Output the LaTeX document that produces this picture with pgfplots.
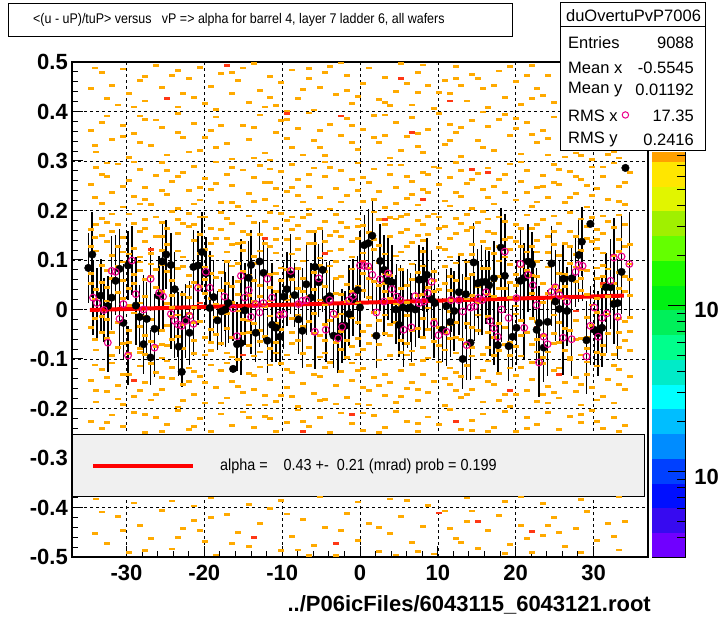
\documentclass[border=0pt]{standalone}
\usepackage{pgfplots}
\pgfplotsset{compat=1.18}
\usepackage{graphicx}
\usepackage{fontspec}
\setmainfont{Liberation Sans}

\definecolor{rootorange}{RGB}{255,170,0}
\definecolor{rootred}{RGB}{255,55,20}
\definecolor{legendgray}{RGB}{240,240,240}
\definecolor{p0}{RGB}{112,0,255}
\definecolor{p1}{RGB}{55,10,240}
\definecolor{p2}{RGB}{0,15,255}
\definecolor{p3}{RGB}{0,64,255}
\definecolor{p4}{RGB}{0,140,255}
\definecolor{p5}{RGB}{0,190,255}
\definecolor{p6}{RGB}{0,255,255}
\definecolor{p7}{RGB}{0,235,200}
\definecolor{p8}{RGB}{0,255,140}
\definecolor{p9}{RGB}{0,240,90}
\definecolor{p10}{RGB}{0,240,20}
\definecolor{p11}{RGB}{30,250,0}
\definecolor{p12}{RGB}{100,255,0}
\definecolor{p13}{RGB}{160,240,0}
\definecolor{p14}{RGB}{225,245,0}
\definecolor{p15}{RGB}{255,230,0}
\definecolor{p16}{RGB}{255,160,0}

% one filled 2D-histogram bin
\pgfdeclareplotmark{cell}{%
  \pgfpathrectangle{\pgfqpoint{-3pt}{-1.4pt}}{\pgfqpoint{6pt}{2.8pt}}%
  \pgfusepathqfill}

\newcommand{\tickfont}{\fontsize{22}{26}\selectfont\bfseries}
\newcommand{\statfont}{\fontsize{16.5}{19}\selectfont}

\begin{document}
\begin{tikzpicture}[x=1pt,y=1pt]
\path[use as bounding box] (0,0) rectangle (720,620);

\begin{axis}[
  at={(72pt,63pt)}, anchor=south west,
  scale only axis, width=576pt, height=495pt,
  xmin=-37, xmax=37, ymin=-0.5, ymax=0.5,
  clip=false,
  axis line style={line width=1.2pt},
  xtick={-30,-20,-10,0,10,20,30},
  xticklabels={-30,-20,-10,0,10,20,30},
  ytick={-0.5,-0.4,-0.3,-0.2,-0.1,0,0.1,0.2,0.3,0.4,0.5},
  yticklabels={-0.5,-0.4,-0.3,-0.2,-0.1,0,0.1,0.2,0.3,0.4,0.5},
  minor x tick num=4, minor y tick num=4,
  xtick pos=left, ytick pos=left,
  tick align=inside,
  major tick length=11pt, minor tick length=5.5pt,
  tick style={black, line width=1pt},
  grid=major,
  major grid style={black, line width=0.6pt, dash pattern=on 3pt off 3pt},
  xticklabel style={font=\tickfont, anchor=north, inner sep=0pt, yshift=-8pt},
  yticklabel style={font=\tickfont, anchor=east, inner sep=0pt, xshift=-4pt},
]

% 2D histogram bins, single entries
\addplot[only marks, mark=cell, color=rootorange] coordinates {
(-34.6,0.447) (-33.2,0.478) (-31.8,0.452) (-31.1,0.413) (-30.4,0.486) (-29.7,0.437) (-28.3,0.462) (-27.6,0.421) (-26.2,0.493) (-25.5,0.448)
(-24.1,0.472) (-23.4,0.409) (-22.0,0.467) (-21.3,0.428) (-20.6,0.489) (-19.2,0.451) (-18.5,0.404) (-17.8,0.476) (-16.4,0.437) (-15.7,0.462)
(-14.3,0.418) (-13.6,0.497) (-12.9,0.443) (-11.5,0.471) (-10.8,0.412) (-10.1,0.458) (-8.7,0.484) (-8.0,0.427) (-6.6,0.466) (-5.9,0.403)
(-5.2,0.449) (-3.8,0.491) (-3.1,0.434) (-1.7,0.473) (-1.0,0.416) (0.4,0.457) (1.1,0.488) (2.5,0.424) (3.2,0.468) (4.6,0.441)
(5.3,0.497) (6.7,0.413) (7.4,0.478) (8.8,0.452) (9.5,0.406) (10.9,0.463) (11.6,0.437) (12.3,0.491) (13.7,0.421) (14.4,0.474)
(15.8,0.446) (16.5,0.408) (17.9,0.482) (18.6,0.429) (20.0,0.461) (20.7,0.414) (22.1,0.493) (22.8,0.447) (24.2,0.472) (24.9,0.418)
(-32.5,0.426) (-27.6,0.471) (-23.4,0.483) (-19.9,0.416) (-15.0,0.488) (-12.2,0.409) (-7.3,0.444) (-4.5,0.479) (-0.3,0.431) (3.9,0.412)
(8.1,0.494) (10.2,0.439) (15.1,0.467) (19.3,0.491) (23.5,0.433) (-9.4,0.401) (6.0,0.456) (-2.4,0.498) (13.0,0.453) (21.4,0.473)
(-34.0,0.488) (-29.0,0.409) (-22.7,0.437) (-16.4,0.479) (-11.5,0.428) (-6.6,0.487) (-1.7,0.442) (3.2,0.418) (7.4,0.438) (12.3,0.466)
(17.2,0.452) (22.1,0.427)
(-34.6,0.362) (-33.9,0.318) (-32.5,0.391) (-31.8,0.344) (-30.4,0.372) (-29.7,0.307) (-29.0,0.356) (-27.6,0.384) (-26.9,0.331) (-25.5,0.367)
(-24.8,0.312) (-23.4,0.396) (-22.7,0.348) (-21.3,0.376) (-20.6,0.322) (-19.2,0.361) (-18.5,0.389) (-17.1,0.336) (-16.4,0.304) (-15.0,0.371)
(-14.3,0.343) (-12.9,0.393) (-12.2,0.316) (-10.8,0.358) (-10.1,0.382) (-8.7,0.327) (-8.0,0.366) (-6.6,0.397) (-5.9,0.341) (-4.5,0.311)
(-3.8,0.374) (-2.4,0.352) (-1.7,0.386) (-0.3,0.323) (0.4,0.363) (1.8,0.392) (2.5,0.338) (3.9,0.306) (4.6,0.377) (6.0,0.349)
(6.7,0.388) (8.1,0.317) (8.8,0.364) (10.2,0.396) (10.9,0.333) (12.3,0.358) (13.0,0.309) (14.4,0.381) (15.1,0.342) (16.5,0.369)
(17.2,0.321) (18.6,0.394) (19.3,0.352) (20.7,0.314) (21.4,0.378) (22.8,0.337) (23.5,0.361) (24.9,0.389) (26.3,0.308) (27.7,0.316)
(29.8,0.303) (31.9,0.313) (33.3,0.306) (-33.2,0.377) (-28.3,0.338) (-23.4,0.357) (-18.5,0.328) (-13.6,0.367) (-9.4,0.346) (-5.2,0.362)
(-1.0,0.337) (3.2,0.352) (7.4,0.329) (11.6,0.373) (15.8,0.399) (20.0,0.366) (24.2,0.346) (-11.5,0.302) (5.3,0.321) (17.9,0.384)
(-34.0,0.331) (-30.4,0.349) (-26.2,0.383) (-22.0,0.318) (-17.8,0.372) (-13.6,0.306) (-9.4,0.384) (-5.2,0.327) (-1.0,0.371) (3.2,0.393)
(7.4,0.356) (11.6,0.341) (15.8,0.327) (20.0,0.386) (24.2,0.312) (-28.3,0.391) (-19.9,0.347) (-7.3,0.312) (1.8,0.347) (13.0,0.368)
(22.1,0.353) (28.4,0.311) (32.6,0.318)
(-34.6,0.253) (-33.9,0.287) (-33.2,0.214) (-32.5,0.268) (-31.8,0.236) (-31.1,0.294) (-30.4,0.207) (-29.7,0.261) (-29.0,0.228) (-28.3,0.283)
(-27.6,0.246) (-26.9,0.212) (-26.2,0.271) (-25.5,0.297) (-24.8,0.233) (-24.1,0.258) (-23.4,0.204) (-22.7,0.276) (-22.0,0.241) (-21.3,0.289)
(-20.6,0.221) (-19.9,0.264) (-19.2,0.243) (-18.5,0.298) (-17.8,0.216) (-17.1,0.273) (-16.4,0.251) (-15.7,0.208) (-15.0,0.282) (-14.3,0.234)
(-13.6,0.266) (-12.9,0.291) (-12.2,0.223) (-11.5,0.256) (-10.8,0.209) (-10.1,0.278) (-9.4,0.238) (-8.7,0.293) (-8.0,0.262) (-7.3,0.217)
(-6.6,0.248) (-5.9,0.286) (-5.2,0.226) (-4.5,0.269) (-3.8,0.203) (-3.1,0.244) (-2.4,0.281) (-1.7,0.231) (-1.0,0.263) (-0.3,0.296)
(0.4,0.218) (1.1,0.257) (1.8,0.284) (2.5,0.239) (3.2,0.206) (3.9,0.272) (4.6,0.247) (5.3,0.292) (6.0,0.224) (6.7,0.259)
(7.4,0.211) (8.1,0.277) (8.8,0.236) (9.5,0.288) (10.2,0.252) (10.9,0.219) (11.6,0.267) (12.3,0.297) (13.0,0.229) (13.7,0.254)
(14.4,0.204) (15.1,0.274) (15.8,0.242) (16.5,0.286) (17.2,0.213) (17.9,0.263) (18.6,0.237) (19.3,0.294) (20.0,0.221) (20.7,0.258)
(21.4,0.281) (22.1,0.208) (22.8,0.246) (23.5,0.271) (24.2,0.227) (24.9,0.293) (25.6,0.252) (26.3,0.216) (27.0,0.279) (27.7,0.234)
(28.4,0.262) (29.1,0.207) (29.8,0.288) (30.5,0.244) (31.2,0.269) (31.9,0.223) (32.6,0.296) (33.3,0.249) (34.0,0.212) (34.7,0.276)
(-34.0,0.226) (-32.5,0.296) (-30.4,0.249) (-28.3,0.213) (-25.5,0.241) (-23.4,0.269) (-21.3,0.213) (-18.5,0.254) (-16.4,0.287) (-13.6,0.218)
(-11.5,0.284) (-8.7,0.247) (-6.6,0.203) (-4.5,0.298) (-2.4,0.217) (-0.3,0.241) (1.8,0.222) (3.9,0.292) (6.0,0.268) (8.1,0.243)
(10.2,0.286) (12.3,0.237) (14.4,0.263) (16.5,0.226) (18.6,0.272) (20.7,0.298) (22.8,0.217) (24.9,0.256) (27.0,0.226) (29.1,0.251)
(31.2,0.288) (33.3,0.218)
(-33.2,0.273) (-29.0,0.298) (-24.8,0.281) (-20.6,0.247) (-16.4,0.216) (-12.2,0.257) (-8.0,0.231) (-3.8,0.287) (0.4,0.267) (4.6,0.214)
(8.8,0.273) (13.0,0.281) (17.2,0.248) (21.4,0.236) (25.6,0.283) (29.8,0.231) (34.0,0.257) (-27.6,0.222) (-10.8,0.244) (6.7,0.232)
(23.5,0.248) (-6.6,0.272) (11.6,0.209) (27.7,0.268)
(-34.6,0.162) (-33.9,0.118) (-33.2,0.184) (-32.5,0.137) (-31.8,0.109) (-31.1,0.171) (-30.4,0.146) (-29.7,0.193) (-29.0,0.124) (-28.3,0.157)
(-27.6,0.182) (-26.9,0.113) (-26.2,0.148) (-25.5,0.176) (-24.8,0.131) (-24.1,0.198) (-23.4,0.153) (-22.7,0.106) (-22.0,0.168) (-21.3,0.139)
(-20.6,0.187) (-19.9,0.121) (-19.2,0.164) (-18.5,0.143) (-17.8,0.196) (-17.1,0.116) (-16.4,0.173) (-15.7,0.134) (-15.0,0.158) (-14.3,0.189)
(-13.6,0.107) (-12.9,0.151) (-12.2,0.178) (-11.5,0.127) (-10.8,0.163) (-10.1,0.194) (-9.4,0.141) (-8.7,0.112) (-8.0,0.169) (-7.3,0.186)
(-6.6,0.133) (-5.9,0.157) (-5.2,0.104) (-4.5,0.177) (-3.8,0.149) (-3.1,0.192) (-2.4,0.122) (-1.7,0.166) (-1.0,0.138) (-0.3,0.183)
(0.4,0.114) (1.1,0.156) (1.8,0.197) (2.5,0.129) (3.2,0.172) (3.9,0.147) (4.6,0.108) (5.3,0.188) (6.0,0.161) (6.7,0.136)
(7.4,0.179) (8.1,0.117) (8.8,0.152) (9.5,0.193) (10.2,0.126) (10.9,0.168) (11.6,0.143) (12.3,0.184) (13.0,0.111) (13.7,0.159)
(14.4,0.132) (15.1,0.176) (15.8,0.198) (16.5,0.123) (17.2,0.154) (17.9,0.187) (18.6,0.106) (19.3,0.145) (20.0,0.171) (20.7,0.128)
(21.4,0.191) (22.1,0.163) (22.8,0.139) (23.5,0.181) (24.2,0.115) (24.9,0.158) (25.6,0.174) (26.3,0.133) (27.0,0.196) (27.7,0.147)
(28.4,0.119) (29.1,0.167) (29.8,0.186) (30.5,0.124) (31.2,0.153) (31.9,0.178) (32.6,0.109) (33.3,0.142) (34.0,0.171) (34.7,0.131)
(-34.6,0.127) (-33.2,0.149) (-31.8,0.193) (-30.4,0.116) (-29.0,0.173) (-27.6,0.137) (-26.2,0.187) (-24.8,0.163) (-23.4,0.118) (-22.0,0.194)
(-20.6,0.152) (-19.2,0.108) (-17.8,0.161) (-16.4,0.132) (-15.0,0.119) (-13.6,0.176) (-12.2,0.134) (-10.8,0.114) (-9.4,0.179) (-8.0,0.143)
(-6.6,0.192) (-5.2,0.163) (-3.8,0.118) (-2.4,0.176) (-1.0,0.106) (0.4,0.169) (1.8,0.141) (3.2,0.112) (4.6,0.183) (6.0,0.127)
(7.4,0.149) (8.8,0.188) (10.2,0.164) (11.6,0.106) (13.0,0.173) (14.4,0.166) (15.8,0.138) (17.2,0.113) (18.6,0.177) (20.0,0.137)
(21.4,0.116) (22.8,0.172) (24.2,0.148) (25.6,0.109) (27.0,0.158) (28.4,0.183) (29.8,0.137) (31.2,0.114) (32.6,0.166) (34.0,0.128)
(-33.9,0.172) (-31.1,0.128) (-28.3,0.106) (-25.5,0.148) (-22.7,0.174) (-19.9,0.187) (-17.1,0.143) (-14.3,0.152) (-11.5,0.196) (-8.7,0.161)
(-5.9,0.134) (-3.1,0.157) (-0.3,0.143) (2.5,0.181) (5.3,0.156) (8.1,0.171) (10.9,0.122) (13.7,0.192) (16.5,0.183) (19.3,0.121)
(22.1,0.127) (24.9,0.189) (27.7,0.111) (30.5,0.162) (33.3,0.191)
(-34.0,0.146) (-31.8,0.158) (-29.7,0.112) (-27.6,0.163) (-25.5,0.119) (-23.4,0.182) (-21.3,0.171) (-19.2,0.133) (-17.1,0.184) (-15.0,0.136)
(-12.9,0.118) (-10.8,0.142) (-8.7,0.187) (-6.6,0.158) (-4.5,0.137) (-2.4,0.148) (-0.3,0.167) (1.8,0.121) (3.9,0.186) (6.0,0.192)
(8.1,0.139) (10.2,0.187) (12.3,0.154) (14.4,0.111) (16.5,0.158) (18.6,0.141) (20.7,0.163) (22.8,0.116) (24.9,0.131) (27.0,0.128)
(29.1,0.143) (31.2,0.189) (33.3,0.117) (-32.5,0.176) (-20.6,0.113) (-8.0,0.122) (5.3,0.116) (17.9,0.127) (30.5,0.141)
(-34.6,0.073) (-33.9,0.041) (-33.2,0.089) (-32.5,0.017) (-31.8,0.062) (-31.1,0.034) (-30.4,0.096) (-29.7,0.008) (-29.0,0.053) (-28.3,0.079)
(-27.6,0.026) (-26.9,0.067) (-26.2,0.044) (-25.5,0.091) (-24.8,0.012) (-24.1,0.058) (-23.4,0.083) (-22.7,0.031) (-22.0,0.069) (-21.3,0.004)
(-20.6,0.047) (-19.9,0.086) (-19.2,0.022) (-18.5,0.064) (-17.8,0.038) (-17.1,0.097) (-16.4,0.014) (-15.7,0.056) (-15.0,0.077) (-14.3,0.029)
(-13.6,0.093) (-12.9,0.049) (-12.2,0.006) (-11.5,0.071) (-10.8,0.036) (-10.1,0.084) (-9.4,0.019) (-8.7,0.061) (-8.0,0.043) (-7.3,0.098)
(-6.6,0.027) (-5.9,0.074) (-5.2,0.052) (-4.5,0.009) (-3.8,0.088) (-3.1,0.033) (-2.4,0.066) (-1.7,0.016) (-1.0,0.082) (-0.3,0.046)
(0.4,0.072) (1.1,0.024) (1.8,0.057) (2.5,0.094) (3.2,0.037) (3.9,0.068) (4.6,0.011) (5.3,0.081) (6.0,0.048) (6.7,0.092)
(7.4,0.028) (8.1,0.063) (8.8,0.003) (9.5,0.076) (10.2,0.041) (10.9,0.087) (11.6,0.018) (12.3,0.059) (13.0,0.034) (13.7,0.096)
(14.4,0.071) (15.1,0.013) (15.8,0.054) (16.5,0.083) (17.2,0.026) (17.9,0.067) (18.6,0.042) (19.3,0.091) (20.0,0.007) (20.7,0.058)
(21.4,0.079) (22.1,0.032) (22.8,0.066) (23.5,0.014) (24.2,0.086) (24.9,0.047) (25.6,0.072) (26.3,0.021) (27.0,0.093) (27.7,0.056)
(28.4,0.038) (29.1,0.078) (29.8,0.009) (30.5,0.063) (31.2,0.089) (31.9,0.027) (32.6,0.052) (33.3,0.074) (34.0,0.036) (34.7,0.061)
(-34.0,0.021) (-32.5,0.078) (-31.1,0.087) (-29.7,0.043) (-28.3,0.013) (-26.9,0.092) (-25.5,0.037) (-24.1,0.028) (-22.7,0.087) (-21.3,0.054)
(-19.9,0.033) (-18.5,0.011) (-17.1,0.052) (-15.7,0.093) (-14.3,0.068) (-12.9,0.027) (-11.5,0.044) (-10.1,0.058) (-8.7,0.026) (-7.3,0.063)
(-5.9,0.041) (-4.5,0.076) (-3.1,0.097) (-1.7,0.051) (-0.3,0.013) (1.1,0.083) (2.5,0.048) (3.9,0.022) (5.3,0.043) (6.7,0.061)
(8.1,0.088) (9.5,0.036) (10.9,0.053) (12.3,0.094) (13.7,0.062) (15.1,0.046) (16.5,0.031) (17.9,0.098) (19.3,0.024) (20.7,0.086)
(22.1,0.069) (23.5,0.053) (24.9,0.018) (26.3,0.071) (27.7,0.086) (29.1,0.031) (30.5,0.022) (31.9,0.082) (33.3,0.043) (34.7,0.092)
(-33.2,0.054) (-30.4,0.058) (-27.6,0.061) (-24.8,0.076) (-22.0,0.024) (-19.2,0.072) (-16.4,0.047) (-13.6,0.016) (-10.8,0.072) (-8.0,0.083)
(-5.2,0.019) (-2.4,0.031) (0.4,0.038) (3.2,0.073) (6.0,0.014) (8.8,0.044) (11.6,0.066) (14.4,0.029) (17.2,0.058) (20.0,0.049)
(22.8,0.097) (25.6,0.039) (28.4,0.081) (31.2,0.047) (34.0,0.067)
(-34.6,0.052) (-32.5,0.044) (-30.4,0.023) (-28.3,0.096) (-26.2,0.081) (-24.1,0.004) (-22.0,0.047) (-19.9,0.061) (-17.8,0.074) (-15.7,0.031)
(-13.6,0.058) (-11.5,0.017) (-9.4,0.081) (-7.3,0.037) (-5.2,0.089) (-3.1,0.062) (-1.0,0.036) (1.1,0.062) (3.2,0.052) (5.3,0.008)
(7.4,0.074) (9.5,0.058) (11.6,0.039) (13.7,0.021) (15.8,0.083) (17.9,0.043) (20.0,0.071) (22.1,0.091) (24.2,0.033) (26.3,0.046)
(28.4,0.062) (30.5,0.084) (32.6,0.016) (34.7,0.029) (-29.0,0.071) (-16.4,0.088) (-4.5,0.046) (8.1,0.031) (19.3,0.054) (31.2,0.067)
(-34.6,-0.037) (-33.9,-0.082) (-33.2,-0.014) (-32.5,-0.059) (-31.8,-0.093) (-31.1,-0.026) (-30.4,-0.068) (-29.7,-0.043) (-29.0,-0.007) (-28.3,-0.087)
(-27.6,-0.052) (-26.9,-0.021) (-26.2,-0.074) (-25.5,-0.098) (-24.8,-0.033) (-24.1,-0.061) (-23.4,-0.011) (-22.7,-0.078) (-22.0,-0.046) (-21.3,-0.089)
(-20.6,-0.024) (-19.9,-0.057) (-19.2,-0.083) (-18.5,-0.016) (-17.8,-0.069) (-17.1,-0.038) (-16.4,-0.096) (-15.7,-0.003) (-15.0,-0.049) (-14.3,-0.072)
(-13.6,-0.028) (-12.9,-0.086) (-12.2,-0.054) (-11.5,-0.013) (-10.8,-0.067) (-10.1,-0.041) (-9.4,-0.092) (-8.7,-0.019) (-8.0,-0.063) (-7.3,-0.034)
(-6.6,-0.077) (-5.9,-0.008) (-5.2,-0.052) (-4.5,-0.088) (-3.8,-0.023) (-3.1,-0.066) (-2.4,-0.044) (-1.7,-0.097) (-1.0,-0.017) (-0.3,-0.058)
(0.4,-0.081) (1.1,-0.032) (1.8,-0.006) (2.5,-0.071) (3.2,-0.048) (3.9,-0.093) (4.6,-0.027) (5.3,-0.062) (6.0,-0.012) (6.7,-0.084)
(7.4,-0.039) (8.1,-0.056) (8.8,-0.098) (9.5,-0.021) (10.2,-0.073) (10.9,-0.047) (11.6,-0.004) (12.3,-0.088) (13.0,-0.061) (13.7,-0.029)
(14.4,-0.076) (15.1,-0.042) (15.8,-0.091) (16.5,-0.014) (17.2,-0.057) (17.9,-0.083) (18.6,-0.036) (19.3,-0.066) (20.0,-0.009) (20.7,-0.094)
(21.4,-0.046) (22.1,-0.071) (22.8,-0.024) (23.5,-0.053) (24.2,-0.086) (24.9,-0.011) (25.6,-0.067) (26.3,-0.038) (27.0,-0.097) (27.7,-0.022)
(28.4,-0.059) (29.1,-0.079) (29.8,-0.033) (30.5,-0.006) (31.2,-0.072) (31.9,-0.049) (32.6,-0.091) (33.3,-0.018) (34.0,-0.063) (34.7,-0.044)
(-34.0,-0.061) (-32.5,-0.021) (-31.1,-0.076) (-29.7,-0.089) (-28.3,-0.034) (-26.9,-0.064) (-25.5,-0.043) (-24.1,-0.014) (-22.7,-0.031) (-21.3,-0.063)
(-19.9,-0.092) (-18.5,-0.051) (-17.1,-0.008) (-15.7,-0.072) (-14.3,-0.023) (-12.9,-0.043) (-11.5,-0.078) (-10.1,-0.009) (-8.7,-0.068) (-7.3,-0.089)
(-5.9,-0.048) (-4.5,-0.031) (-3.1,-0.014) (-1.7,-0.062) (-0.3,-0.026) (1.1,-0.068) (2.5,-0.022) (3.9,-0.052) (5.3,-0.087) (6.7,-0.043)
(8.1,-0.018) (9.5,-0.064) (10.9,-0.082) (12.3,-0.027) (13.7,-0.068) (15.1,-0.011) (16.5,-0.077) (17.9,-0.028) (19.3,-0.093) (20.7,-0.053)
(22.1,-0.018) (23.5,-0.097) (24.9,-0.048) (26.3,-0.083) (27.7,-0.061) (29.1,-0.016) (30.5,-0.087) (31.9,-0.009) (33.3,-0.076) (34.7,-0.083)
(-33.2,-0.047) (-30.4,-0.029) (-27.6,-0.091) (-24.8,-0.073) (-22.0,-0.008) (-19.2,-0.041) (-16.4,-0.056) (-13.6,-0.094) (-10.8,-0.029) (-8.0,-0.011)
(-5.2,-0.096) (-2.4,-0.081) (0.4,-0.044) (3.2,-0.011) (6.0,-0.069) (8.8,-0.041) (11.6,-0.059) (14.4,-0.037) (17.2,-0.093) (20.0,-0.074)
(22.8,-0.061) (25.6,-0.026) (28.4,-0.092) (31.2,-0.036) (34.0,-0.024)
(-34.0,-0.019) (-31.8,-0.047) (-29.7,-0.066) (-27.6,-0.013) (-25.5,-0.071) (-23.4,-0.054) (-21.3,-0.027) (-19.2,-0.067) (-17.1,-0.088) (-15.0,-0.021)
(-12.9,-0.064) (-10.8,-0.088) (-8.7,-0.046) (-6.6,-0.024) (-4.5,-0.063) (-2.4,-0.009) (-0.3,-0.091) (1.8,-0.052) (3.9,-0.031) (6.0,-0.092)
(8.1,-0.077) (10.2,-0.036) (12.3,-0.056) (14.4,-0.094) (16.5,-0.047) (18.6,-0.071) (20.7,-0.022) (22.8,-0.086) (24.9,-0.069) (27.0,-0.043)
(29.1,-0.056) (31.2,-0.091) (33.3,-0.047) (-28.3,-0.079) (-14.3,-0.047) (-1.0,-0.074) (11.6,-0.031) (24.2,-0.029) (34.7,-0.016)
(-34.6,-0.143) (-33.9,-0.187) (-33.2,-0.121) (-32.5,-0.166) (-31.8,-0.108) (-31.1,-0.154) (-30.4,-0.192) (-29.7,-0.131) (-29.0,-0.176) (-28.3,-0.114)
(-27.6,-0.148) (-26.9,-0.183) (-26.2,-0.127) (-25.5,-0.161) (-24.8,-0.104) (-24.1,-0.139) (-23.4,-0.197) (-22.7,-0.152) (-22.0,-0.118) (-21.3,-0.171)
(-20.6,-0.136) (-19.9,-0.189) (-19.2,-0.112) (-18.5,-0.158) (-17.8,-0.124) (-17.1,-0.179) (-16.4,-0.146) (-15.7,-0.101) (-15.0,-0.167) (-14.3,-0.193)
(-13.6,-0.133) (-12.9,-0.116) (-12.2,-0.174) (-11.5,-0.141) (-10.8,-0.186) (-10.1,-0.109) (-9.4,-0.157) (-8.7,-0.128) (-8.0,-0.196) (-7.3,-0.149)
(-6.6,-0.113) (-5.9,-0.169) (-5.2,-0.136) (-4.5,-0.182) (-3.8,-0.107) (-3.1,-0.153) (-2.4,-0.126) (-1.7,-0.178) (-1.0,-0.144) (-0.3,-0.191)
(0.4,-0.119) (1.1,-0.164) (1.8,-0.137) (2.5,-0.102) (3.2,-0.173) (3.9,-0.147) (4.6,-0.188) (5.3,-0.123) (6.0,-0.159) (6.7,-0.111)
(7.4,-0.184) (8.1,-0.132) (8.8,-0.168) (9.5,-0.146) (10.2,-0.106) (10.9,-0.194) (11.6,-0.152) (12.3,-0.127) (13.0,-0.177) (13.7,-0.113)
(14.4,-0.162) (15.1,-0.138) (15.8,-0.187) (16.5,-0.104) (17.2,-0.151) (17.9,-0.129) (18.6,-0.172) (19.3,-0.196) (20.0,-0.134) (20.7,-0.117)
(21.4,-0.163) (22.1,-0.142) (22.8,-0.186) (23.5,-0.109) (24.2,-0.156) (24.9,-0.124) (25.6,-0.179) (26.3,-0.148) (27.0,-0.102) (27.7,-0.166)
(28.4,-0.193) (29.1,-0.131) (29.8,-0.157) (30.5,-0.114) (31.2,-0.176) (31.9,-0.141) (32.6,-0.189) (33.3,-0.122) (34.0,-0.161) (34.7,-0.136)
(-34.0,-0.112) (-31.1,-0.181) (-28.3,-0.163) (-25.5,-0.137) (-22.7,-0.184) (-19.9,-0.147) (-17.1,-0.108) (-14.3,-0.129) (-11.5,-0.112) (-8.7,-0.176)
(-5.9,-0.132) (-3.1,-0.191) (-0.3,-0.124) (2.5,-0.154) (5.3,-0.176) (8.1,-0.103) (10.9,-0.139) (13.7,-0.171) (16.5,-0.146) (19.3,-0.118)
(22.1,-0.107) (24.9,-0.167) (27.7,-0.137) (30.5,-0.183) (33.3,-0.152) (-32.5,-0.138) (-26.9,-0.109) (-21.3,-0.126) (-15.7,-0.156) (-10.1,-0.173)
(-4.5,-0.117) (1.1,-0.193) (6.7,-0.147) (12.3,-0.163) (17.9,-0.184) (23.5,-0.171) (29.1,-0.106)
(-33.9,-0.163) (-30.4,-0.131) (-26.2,-0.172) (-22.0,-0.146) (-17.8,-0.189) (-13.6,-0.161) (-9.4,-0.121) (-5.2,-0.184) (-1.0,-0.108) (3.2,-0.131)
(7.4,-0.162) (11.6,-0.118) (15.8,-0.124) (20.0,-0.172) (24.2,-0.189) (28.4,-0.151) (32.6,-0.113) (-24.1,-0.117) (-12.2,-0.193) (0.4,-0.158)
(13.0,-0.136) (25.6,-0.118)
(-34.6,-0.226) (-33.2,-0.241) (-31.8,-0.213) (-30.4,-0.237) (-29.0,-0.208) (-27.6,-0.248) (-26.2,-0.219) (-24.8,-0.232) (-23.4,-0.204) (-22.0,-0.243)
(-20.6,-0.221) (-19.2,-0.246) (-17.8,-0.211) (-16.4,-0.234) (-15.0,-0.207) (-13.6,-0.239) (-12.2,-0.216) (-10.8,-0.247) (-9.4,-0.228) (-8.0,-0.203)
(-6.6,-0.236) (-5.2,-0.218) (-3.8,-0.249) (-2.4,-0.209) (-1.0,-0.231) (0.4,-0.244) (1.8,-0.214) (3.2,-0.238) (4.6,-0.206) (6.0,-0.227)
(7.4,-0.247) (8.8,-0.217) (10.2,-0.233) (11.6,-0.202) (13.0,-0.242) (14.4,-0.224) (15.8,-0.211) (17.2,-0.238) (18.6,-0.206) (20.0,-0.246)
(21.4,-0.219) (22.8,-0.232) (24.2,-0.208) (25.6,-0.243) (27.0,-0.216) (28.4,-0.229) (29.8,-0.204) (31.2,-0.241) (32.6,-0.218) (34.0,-0.234)
(-25.5,-0.247) (-11.5,-0.221) (2.5,-0.249) (16.5,-0.247) (30.5,-0.226)
(-32.5,-0.228) (-27.6,-0.212) (-21.3,-0.236) (-14.3,-0.219) (-7.3,-0.226) (0.4,-0.209) (7.4,-0.231) (14.4,-0.244) (21.4,-0.241) (28.4,-0.212)
(33.3,-0.246)
(-33.9,-0.383) (-29.0,-0.391) (-24.1,-0.387) (-19.2,-0.381) (-14.3,-0.394) (-10.1,-0.386) (-5.2,-0.379) (-0.3,-0.389) (3.9,-0.383) (8.8,-0.396)
(13.7,-0.381) (18.6,-0.388) (23.5,-0.392) (28.4,-0.384) (33.3,-0.379) (-21.3,-0.397) (6.0,-0.386) (20.7,-0.379)
(-34.0,-0.452) (-32.5,-0.473) (-31.1,-0.418) (-29.7,-0.491) (-28.3,-0.437) (-26.9,-0.462) (-25.5,-0.406) (-24.1,-0.484) (-22.7,-0.443) (-21.3,-0.427)
(-19.9,-0.468) (-18.5,-0.496) (-17.1,-0.414) (-15.7,-0.451) (-14.3,-0.478) (-12.9,-0.433) (-11.5,-0.402) (-10.1,-0.487) (-8.7,-0.459) (-7.3,-0.424)
(-5.9,-0.476) (-4.5,-0.441) (-3.1,-0.497) (-1.7,-0.412) (-0.3,-0.466) (1.1,-0.432) (2.5,-0.489) (3.9,-0.453) (5.3,-0.419) (6.7,-0.471)
(8.1,-0.438) (9.5,-0.494) (10.9,-0.407) (12.3,-0.462) (13.7,-0.428) (15.1,-0.483) (16.5,-0.446) (17.9,-0.416) (19.3,-0.474) (20.7,-0.436)
(22.1,-0.491) (23.5,-0.457) (24.9,-0.421) (26.3,-0.479) (27.7,-0.443) (29.1,-0.408) (30.5,-0.467) (31.9,-0.432) (33.3,-0.486) (-33.2,-0.409)
(-27.6,-0.487) (-23.4,-0.461) (-16.4,-0.472) (-9.4,-0.413) (-2.4,-0.447) (4.6,-0.496) (11.6,-0.442) (18.6,-0.493) (25.6,-0.451) (32.6,-0.458)
(-20.6,-0.447) (-6.6,-0.497) (7.4,-0.489) (14.4,-0.407) (21.4,-0.463) (28.4,-0.491)
(-30.4,-0.447) (-19.2,-0.421) (-8.0,-0.486) (2.5,-0.441) (13.0,-0.471) (24.2,-0.436) (34.0,-0.428)
};

% bins with two entries
\addplot[only marks, mark=cell, color=rootred] coordinates {
(-24.8,0.427) (-17.1,0.493) (-9.4,0.396) (5.3,0.467) (11.6,0.421) (14.4,0.283) (16.5,0.277) (-12.2,0.143) (3.2,0.181) (-29.0,-0.143)
(-4.5,0.113) (8.1,0.223) (19.3,-0.163) (22.8,-0.036) (-15.0,-0.092) (0.4,0.097) (-20.6,0.013) (27.7,-0.003) (25.6,-0.132) (-7.3,-0.247)
(12.3,-0.227) (-1.0,-0.212) (10.2,-0.411) (15.1,-0.429) (22.1,-0.448) (-13.6,-0.461) (-3.1,-0.473) (6.7,0.357) (-2.4,0.391) (-26.9,0.121)
(31.2,0.053)
};

% profile, filled markers
\addplot[only marks, mark=*, mark size=3.8pt, black,
  error bars/.cd, y dir=both, y explicit, error mark=none,
  error bar style={line width=1.5pt, black}] coordinates {
(-34.9,0.084) +- (0,0.070) (-34.4,0.111) +- (0,0.085) (-33.3,0.028) +- (0,0.075) (-32.4,0.007) +- (0,0.060)
(-31.9,0.024) +- (0,0.065) (-31.4,0.058) +- (0,0.070) (-30.9,0.082) +- (0,0.080) (-30.4,-0.027) +- (0,0.075)
(-29.8,0.089) +- (0,0.070) (-28.8,0.008) +- (0,0.080) (-28.3,-0.015) +- (0,0.065) (-27.8,-0.070) +- (0,0.060)
(-27.4,-0.019) +- (0,0.075) (-26.9,-0.097) +- (0,0.055) (-26.4,-0.039) +- (0,0.070) (-25.9,0.028) +- (0,0.080)
(-25.4,0.097) +- (0,0.075) (-24.9,0.111) +- (0,0.070) (-24.3,0.090) +- (0,0.065) (-23.8,0.041) +- (0,0.075)
(-23.3,-0.075) +- (0,0.060) (-22.9,-0.126) +- (0,0.030) (-22.4,-0.020) +- (0,0.070) (-21.9,-0.047) +- (0,0.065)
(-21.4,0.086) +- (0,0.075) (-20.8,0.089) +- (0,0.070) (-20.3,0.116) +- (0,0.080) (-19.8,0.073) +- (0,0.065)
(-19.3,0.003) +- (0,0.070) (-18.8,0.025) +- (0,0.075) (-18.3,-0.022) +- (0,0.060) (-17.8,-0.004) +- (0,0.070)
(-17.3,0.000) +- (0,0.075) (-16.9,0.013) +- (0,0.080) (-16.3,-0.120) +- (0,0.000) (-15.8,-0.070) +- (0,0.045)
(-15.3,-0.068) +- (0,0.065) (-14.8,-0.002) +- (0,0.070) (-14.3,0.064) +- (0,0.075) (-14.0,0.090) +- (0,0.070)
(-13.4,-0.047) +- (0,0.060) (-12.9,0.097) +- (0,0.080) (-12.4,0.074) +- (0,0.070) (-11.9,-0.063) +- (0,0.065)
(-11.3,-0.031) +- (0,0.075) (-10.8,-0.037) +- (0,0.070) (-10.3,-0.055) +- (0,0.060) (-9.8,0.026) +- (0,0.070)
(-9.4,0.041) +- (0,0.075) (-8.9,0.071) +- (0,0.080) (-8.4,0.029) +- (0,0.065) (-7.9,-0.020) +- (0,0.070)
(-7.4,-0.043) +- (0,0.075) (-6.9,0.051) +- (0,0.080) (-6.3,0.024) +- (0,0.070) (-5.8,0.086) +- (0,0.075)
(-5.3,0.055) +- (0,0.070) (-4.8,0.080) +- (0,0.085) (-4.3,0.021) +- (0,0.075) (-3.9,0.027) +- (0,0.070)
(-3.4,-0.053) +- (0,0.065) (-2.8,-0.055) +- (0,0.070) (-2.3,-0.033) +- (0,0.075) (-1.9,-0.033) +- (0,0.070)
(-1.4,-0.009) +- (0,0.065) (-0.9,0.021) +- (0,0.075) (-0.3,0.039) +- (0,0.070) (0.0,0.004) +- (0,0.080)
(0.55,0.130) +- (0,0.060) (1.07,0.134) +- (0,0.070) (1.58,0.149) +- (0,0.075) (2.1,-0.053) +- (0,0.065)
(2.6,0.098) +- (0,0.075) (3.1,0.080) +- (0,0.070) (3.6,0.058) +- (0,0.080) (4.1,0.055) +- (0,0.075)
(4.6,0.000) +- (0,0.070) (5.0,-0.031) +- (0,0.065) (5.5,0.004) +- (0,0.075) (6.1,0.002) +- (0,0.080)
(6.5,0.004) +- (0,0.070) (7.1,0.000) +- (0,0.075) (7.6,0.060) +- (0,0.070) (8.1,0.061) +- (0,0.065)
(8.6,0.070) +- (0,0.075) (9.2,0.021) +- (0,0.080) (9.6,0.013) +- (0,0.070) (10.6,-0.041) +- (0,0.065)
(11.1,0.007) +- (0,0.075) (11.6,-0.025) +- (0,0.070) (12.1,-0.003) +- (0,0.080) (12.7,0.035) +- (0,0.075)
(13.2,-0.100) +- (0,0.060) (13.6,0.031) +- (0,0.070) (14.2,-0.067) +- (0,0.075) (14.6,0.095) +- (0,0.080)
(15.1,0.053) +- (0,0.070) (15.6,0.055) +- (0,0.075) (16.1,0.056) +- (0,0.065) (16.6,0.049) +- (0,0.070)
(17.2,0.063) +- (0,0.075) (17.7,-0.072) +- (0,0.060) (18.1,0.125) +- (0,0.080) (18.6,0.068) +- (0,0.075)
(19.1,-0.074) +- (0,0.070) (19.6,-0.055) +- (0,0.065) (20.1,-0.037) +- (0,0.075) (20.6,0.058) +- (0,0.080)
(21.1,0.064) +- (0,0.070) (21.6,0.097) +- (0,0.075) (22.1,0.091) +- (0,0.065) (22.7,-0.041) +- (0,0.070)
(23.0,-0.027) +- (0,0.075) (23.6,-0.077) +- (0,0.070) (24.1,-0.025) +- (0,0.065) (24.6,0.093) +- (0,0.075)
(25.1,0.016) +- (0,0.080) (25.6,0.001) +- (0,0.070) (26.1,0.062) +- (0,0.075) (26.6,-0.003) +- (0,0.070)
(27.2,0.063) +- (0,0.065) (28.1,0.110) +- (0,0.075) (28.5,0.137) +- (0,0.070) (29.1,-0.062) +- (0,0.080)
(29.6,0.173) +- (0,0.000) (30.1,-0.041) +- (0,0.075) (30.6,-0.048) +- (0,0.085) (31.1,-0.037) +- (0,0.080)
(31.6,0.045) +- (0,0.070) (32.2,0.045) +- (0,0.085) (32.6,0.011) +- (0,0.080) (33.1,0.013) +- (0,0.090)
(33.6,0.076) +- (0,0.085) (34.1,0.286) +- (0,0.000)
};

% profile, open markers
\addplot[only marks, mark=o, mark size=3.4pt, magenta, mark options={line width=1.1pt},
  error bars/.cd, y dir=both, y explicit, error mark=none,
  error bar style={line width=1.5pt, black}] coordinates {
(-34.3,0.024) +- (0,0.075) (-33.8,0.013) +- (0,0.070) (-32.9,-0.001) +- (0,0.065) (-32.4,-0.067) +- (0,0.060)
(-31.9,0.078) +- (0,0.070) (-31.4,0.076) +- (0,0.075) (-30.9,-0.019) +- (0,0.070) (-30.4,0.011) +- (0,0.080)
(-29.8,-0.093) +- (0,0.060) (-29.3,0.099) +- (0,0.070) (-28.8,0.031) +- (0,0.075) (-27.8,0.000) +- (0,0.070)
(-26.9,0.062) +- (0,0.065) (-26.4,-0.077) +- (0,0.060) (-25.8,0.034) +- (0,0.075) (-25.3,0.026) +- (0,0.070)
(-24.3,-0.009) +- (0,0.070) (-23.8,-0.023) +- (0,0.075) (-23.4,-0.030) +- (0,0.065) (-22.9,-0.033) +- (0,0.070)
(-22.4,-0.023) +- (0,0.075) (-21.9,-0.013) +- (0,0.070) (-21.4,-0.029) +- (0,0.065) (-20.8,0.044) +- (0,0.075)
(-19.8,0.076) +- (0,0.070) (-19.3,0.044) +- (0,0.075) (-17.4,0.026) +- (0,0.070) (-16.3,0.002) +- (0,0.065)
(-15.8,-0.054) +- (0,0.070) (-15.3,0.068) +- (0,0.075) (-14.8,0.024) +- (0,0.070) (-14.3,0.039) +- (0,0.065)
(-14.0,-0.015) +- (0,0.075) (-13.4,0.011) +- (0,0.070) (-12.9,-0.006) +- (0,0.070) (-12.4,0.013) +- (0,0.075)
(-11.9,0.062) +- (0,0.065) (-11.3,0.024) +- (0,0.070) (-10.3,-0.011) +- (0,0.075) (-9.8,-0.009) +- (0,0.070)
(-8.9,0.078) +- (0,0.075) (-7.9,0.011) +- (0,0.070) (-7.4,0.018) +- (0,0.065) (-6.9,0.019) +- (0,0.070)
(-5.8,-0.045) +- (0,0.075) (-5.3,0.063) +- (0,0.070) (-4.4,-0.041) +- (0,0.065) (-3.9,0.019) +- (0,0.070)
(-3.4,-0.009) +- (0,0.075) (-2.8,-0.058) +- (0,0.070) (-2.3,-0.035) +- (0,0.065) (-1.4,0.019) +- (0,0.070)
(-0.9,0.027) +- (0,0.075) (0.0,0.089) +- (0,0.070) (0.55,0.088) +- (0,0.065) (1.07,0.087) +- (0,0.070)
(1.58,0.070) +- (0,0.075) (2.1,-0.006) +- (0,0.070) (2.6,0.061) +- (0,0.065) (3.1,0.016) +- (0,0.070)
(3.6,0.073) +- (0,0.075) (4.1,0.041) +- (0,0.070) (4.7,0.026) +- (0,0.065) (5.2,0.019) +- (0,0.070)
(5.6,-0.041) +- (0,0.075) (6.6,-0.036) +- (0,0.070) (7.1,0.027) +- (0,0.065) (7.6,0.013) +- (0,0.070)
(8.2,0.016) +- (0,0.075) (8.7,0.033) +- (0,0.070) (9.2,0.056) +- (0,0.065) (9.5,-0.028) +- (0,0.070)
(10.1,-0.052) +- (0,0.075) (11.1,-0.045) +- (0,0.070) (11.7,0.019) +- (0,0.065) (12.7,0.019) +- (0,0.070)
(13.2,-0.004) +- (0,0.075) (13.7,-0.072) +- (0,0.070) (14.2,0.004) +- (0,0.065) (14.7,0.006) +- (0,0.070)
(15.2,0.023) +- (0,0.075) (15.7,0.019) +- (0,0.070) (16.2,0.035) +- (0,0.065) (16.7,-0.023) +- (0,0.070)
(17.2,-0.038) +- (0,0.075) (17.7,-0.055) +- (0,0.070) (18.2,0.000) +- (0,0.065) (18.6,0.117) +- (0,0.075)
(19.1,-0.017) +- (0,0.070) (20.1,0.023) +- (0,0.075) (20.6,0.092) +- (0,0.070) (21.1,-0.037) +- (0,0.065)
(21.6,0.070) +- (0,0.075) (22.2,0.049) +- (0,0.070) (22.7,0.009) +- (0,0.075) (23.0,-0.107) +- (0,0.070)
(23.6,-0.055) +- (0,0.075) (24.1,-0.070) +- (0,0.065) (24.6,0.036) +- (0,0.070) (25.1,0.045) +- (0,0.075)
(25.6,0.029) +- (0,0.070) (26.1,-0.057) +- (0,0.075) (26.6,0.016) +- (0,0.070) (27.2,-0.060) +- (0,0.075)
(27.7,0.076) +- (0,0.070) (28.1,0.090) +- (0,0.075) (28.6,0.088) +- (0,0.070) (29.1,-0.095) +- (0,0.075)
(29.6,-0.033) +- (0,0.080) (30.1,0.004) +- (0,0.075) (30.6,-0.055) +- (0,0.080) (31.1,-0.017) +- (0,0.085)
(31.7,-0.008) +- (0,0.080) (32.2,0.058) +- (0,0.085) (32.6,0.105) +- (0,0.080) (33.1,-0.015) +- (0,0.085)
(33.6,0.107) +- (0,0.085) (34.6,0.092) +- (0,0.105)
};

% fit
\addplot[red, line width=4pt] coordinates {(-34.7,-0.001) (33.9,0.028)};

% fit legend
\filldraw[fill=legendgray, draw=black, line width=0.8pt] (axis cs:-37,-0.2515) rectangle (axis cs:36.6,-0.3768);
\draw[red, line width=4pt] (axis cs:-34.3,-0.3162) -- (axis cs:-21.45,-0.3162);
\node[anchor=west, inner sep=0pt] at (axis cs:-18,-0.3162)
  {\scalebox{0.9}[1]{\fontsize{16}{19}\selectfont alpha =\ \ \ \ 0.43 +-\ \ 0.21 (mrad) prob = 0.199}};

% statistics box
\filldraw[fill=white, draw=black, line width=1pt] (axis cs:25.82,0.6192) rectangle (axis cs:44.45,0.3202);
\draw[line width=1pt] (axis cs:25.82,0.5707) -- (axis cs:44.45,0.5707);
\node[inner sep=0pt] at (axis cs:35.14,0.5929) {\statfont duOvertuPvP7006};
\node[anchor=west, inner sep=0pt] at (axis cs:26.72,0.5390) {\statfont Entries};
\node[anchor=east, inner sep=0pt] at (axis cs:42.91,0.5390) {\statfont 9088};
\node[anchor=west, inner sep=0pt] at (axis cs:26.72,0.4885) {\statfont Mean x};
\node[anchor=east, inner sep=0pt] at (axis cs:42.91,0.4885) {\statfont -0.5545};
\node[anchor=west, inner sep=0pt] at (axis cs:26.72,0.4434) {\statfont Mean y};
\node[anchor=east, inner sep=0pt] at (axis cs:42.91,0.4434) {\statfont 0.01192};
\node[anchor=west, inner sep=0pt] at (axis cs:26.72,0.3915) {\statfont RMS x};
\node[anchor=east, inner sep=0pt] at (axis cs:42.91,0.3915) {\statfont 17.35};
\node[anchor=west, inner sep=0pt] at (axis cs:26.72,0.3437) {\statfont RMS y};
\node[anchor=east, inner sep=0pt] at (axis cs:42.91,0.3437) {\statfont 0.2416};

% one open marker drawn over the statistics box
\addplot[only marks, mark=o, mark size=3.2pt, magenta, mark options={line width=1pt}] coordinates {(34.1,0.393)};
\end{axis}

% title box
\draw[line width=1pt] (8,583) rectangle (512,616);
\node[anchor=west, inner sep=0pt] at (33,600)
  {\scalebox{0.89}[1]{\fontsize{14}{17}\selectfont <(u - uP)/tuP> versus\ \ \ vP => alpha for barrel 4, layer 7 ladder 6, all wafers}};

% x axis title
\node[anchor=base east, inner sep=0pt] at (651,8) {\tickfont ../P06icFiles/6043115\_6043121.root};

% colour palette
\fill[p0]  (652,62)     rectangle (685,86.75);
\fill[p1]  (652,86.75)  rectangle (685,111.5);
\fill[p2]  (652,111.5)  rectangle (685,136.25);
\fill[p3]  (652,136.25) rectangle (685,161);
\fill[p4]  (652,161)    rectangle (685,185.75);
\fill[p5]  (652,185.75) rectangle (685,210.5);
\fill[p6]  (652,210.5)  rectangle (685,235.25);
\fill[p7]  (652,235.25) rectangle (685,260);
\fill[p8]  (652,260)    rectangle (685,284.75);
\fill[p9]  (652,284.75) rectangle (685,309.5);
\fill[p10] (652,309.5)  rectangle (685,334.25);
\fill[p11] (652,334.25) rectangle (685,359);
\fill[p12] (652,359)    rectangle (685,383.75);
\fill[p13] (652,383.75) rectangle (685,408.5);
\fill[p14] (652,408.5)  rectangle (685,433.25);
\fill[p15] (652,433.25) rectangle (685,458);
\fill[p16] (652,458)    rectangle (685,468);
\draw[line width=1pt] (685,468) -- (685,62) -- (652,62);
\foreach \yy in {314.3,148.3} \draw[line width=1pt] (685,\yy) -- (668,\yy);
\foreach \yy in {464.2,454.6,443.5,430.3,414.2,393.5,364.3,306.7,298.2,288.6,277.5,264.3,248.2,227.5,198.3,140.7,132.2,122.6,111.5,98.3,82.2}
  \draw[line width=1pt] (685,\yy) -- (677,\yy);
\node[anchor=east, inner sep=0pt] at (719,310) {\tickfont 10};
\node[anchor=east, inner sep=0pt] at (719,143) {\tickfont 10};
\end{tikzpicture}
\end{document}
